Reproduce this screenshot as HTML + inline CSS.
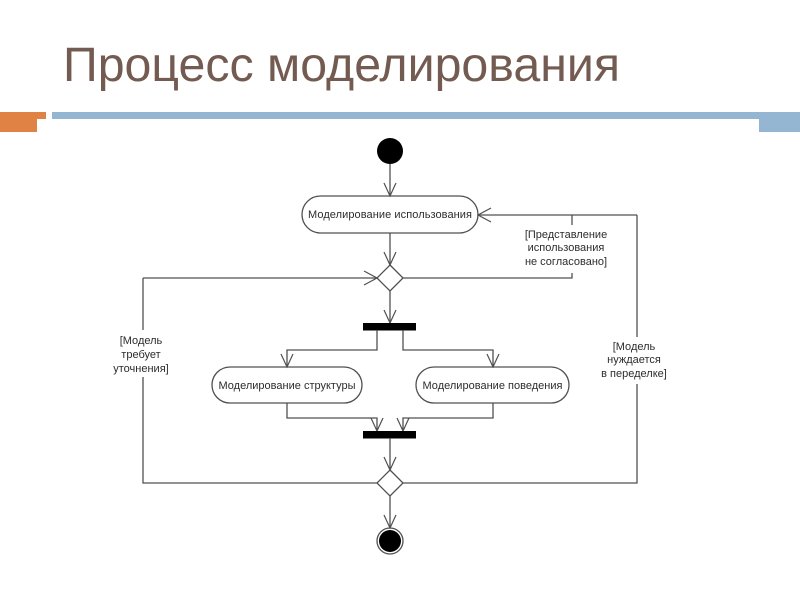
<!DOCTYPE html>
<html lang="ru">
<head>
<meta charset="utf-8">
<title>Процесс моделирования</title>
<style>
html,body{margin:0;padding:0;background:#fff;}
body{width:800px;height:600px;overflow:hidden;position:relative;}
svg{position:absolute;left:0;top:0;}
.title{font-family:"Liberation Sans","Noto Sans CJK SC",sans-serif;font-size:48px;fill:#735b51;}
.lbl{font-family:"Liberation Sans","Noto Sans CJK SC",sans-serif;font-size:11px;fill:#2c2c2c;text-anchor:middle;}
.act{font-family:"Liberation Sans","Noto Sans CJK SC",sans-serif;font-size:11px;fill:#2c2c2c;text-anchor:middle;}
.l{fill:none;stroke:#505050;stroke-width:1.3;}
.a{fill:none;stroke:#505050;stroke-width:1.2;}
.d{filter:blur(0.35px);}
</style>
</head>
<body>
<svg width="800" height="600" viewBox="0 0 800 600" xmlns="http://www.w3.org/2000/svg">
  <text class="title" x="63" y="81" textLength="557" lengthAdjust="spacingAndGlyphs">Процесс моделирования</text>

  <polygon points="0,112 46,112 46,119 37,119 37,132 0,132" fill="#df8244"/>
  <rect x="52" y="112" width="707" height="7" fill="#94b6d2"/>
  <rect x="759" y="112" width="41" height="20" fill="#94b6d2"/>

  <g class="d">
    <!-- start -->
    <circle cx="390" cy="151" r="13" fill="#000"/>
    <path class="l" d="M390 164V196"/>
    <path class="a" d="M384 183L390 196L396 183"/>

    <!-- activity 1 -->
    <rect class="l" x="302" y="196" width="176" height="37" rx="18.5" ry="18.5" fill="#fff"/>
    <text class="act" x="390" y="218" textLength="164">Моделирование использования</text>

    <path class="l" d="M390 233V265"/>
    <path class="a" d="M384 252L390 265L396 252"/>

    <!-- diamond 1 -->
    <polygon class="l" points="390,265 403,278 390,291 377,278"/>
    <path class="l" d="M143 278H377"/>
    <path class="a" d="M364 271L377 278L364 285"/>
    <path class="l" d="M403 278H572V273"/>
    <path class="l" d="M572 225V215"/>
    <path class="l" d="M637 215H478"/>
    <path class="a" d="M491 208L478 215L491 222"/>
    <path class="l" d="M390 291V323"/>
    <path class="a" d="M384 310L390 323L396 310"/>

    <!-- fork -->
    <rect x="363" y="323" width="53" height="7.5" fill="#000"/>
    <path class="l" d="M377 330V350H287V367"/>
    <path class="a" d="M281 354L287 367L293 354"/>
    <path class="l" d="M403 330V350H493V367"/>
    <path class="a" d="M487 354L493 367L499 354"/>

    <!-- activities 2 and 3 -->
    <rect class="l" x="212" y="367" width="150" height="36" rx="18" ry="18" fill="#fff"/>
    <text class="act" x="287" y="389" textLength="137">Моделирование структуры</text>
    <rect class="l" x="416" y="367" width="153" height="36" rx="18" ry="18" fill="#fff"/>
    <text class="act" x="492.5" y="389" textLength="140">Моделирование поведения</text>

    <!-- join -->
    <path class="l" d="M287 403V418H377V431"/>
    <path class="a" d="M371 418L377 431L383 418"/>
    <path class="l" d="M493 403V418H403V431"/>
    <path class="a" d="M397 418L403 431L409 418"/>
    <rect x="363" y="431" width="53" height="7.5" fill="#000"/>

    <path class="l" d="M390 438V470"/>
    <path class="a" d="M384 457L390 470L396 457"/>

    <!-- diamond 2 -->
    <polygon class="l" points="390,470 403,483 390,496 377,483"/>
    <path class="l" d="M377 483H143V377"/>
    <path class="l" d="M143 330V278"/>
    <path class="l" d="M403 483H637V384"/>
    <path class="l" d="M637 337V215"/>

    <path class="l" d="M390 496V528"/>
    <path class="a" d="M384 515L390 528L396 515"/>

    <!-- end -->
    <circle class="l" cx="390" cy="541" r="13" fill="#fff"/>
    <circle cx="390" cy="541" r="11" fill="#000"/>

    <!-- guards -->
    <text class="lbl" x="566" y="238">[Представление</text>
    <text class="lbl" x="566" y="251">использования</text>
    <text class="lbl" x="566" y="265">не согласовано]</text>

    <text class="lbl" x="141" y="344">[Модель</text>
    <text class="lbl" x="141" y="358">требует</text>
    <text class="lbl" x="141" y="372">уточнения]</text>

    <text class="lbl" x="634" y="350">[Модель</text>
    <text class="lbl" x="634" y="363">нуждается</text>
    <text class="lbl" x="634" y="377">в переделке]</text>
  </g>
</svg>
</body>
</html>
